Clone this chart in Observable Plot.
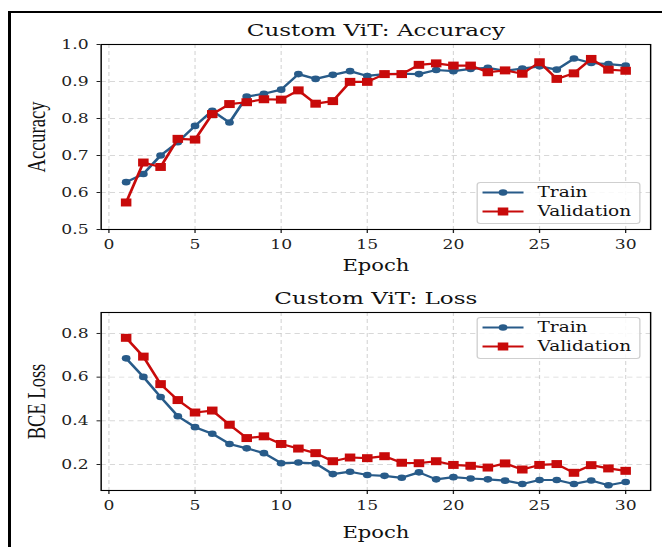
<!DOCTYPE html>
<html><head><meta charset="utf-8">
<script src="https://cdn.jsdelivr.net/npm/d3@7"></script>
<script src="https://cdn.jsdelivr.net/npm/@observablehq/plot@0.6"></script>
<style>
body{margin:0;background:#fff;width:662px;height:547px;overflow:hidden;position:relative;font-family:"DejaVu Serif",serif}
#border{position:absolute;left:8px;top:11px;width:700px;height:600px;border-left:3px solid #000;border-top:2px solid #000;}
#wrap{position:absolute;left:0;top:0;width:501.5px;height:547px;transform:scaleX(1.32);transform-origin:0 0;}
.panel{position:absolute;left:0}
.legend{position:absolute;overflow:visible}
</style></head><body>
<div id="border"></div>
<div id="wrap"></div>
<script>
const epochs = [1,2,3,4,5,6,7,8,9,10,11,12,13,14,15,16,17,18,19,20,21,22,23,24,25,26,27,28,29,30];
const trainAcc = [0.628,0.650,0.700,0.736,0.780,0.821,0.789,0.859,0.867,0.878,0.920,0.907,0.918,0.928,0.915,0.920,0.921,0.920,0.931,0.928,0.934,0.937,0.929,0.935,0.941,0.932,0.962,0.950,0.947,0.943];
const valAcc = [0.573,0.681,0.669,0.745,0.743,0.812,0.839,0.844,0.852,0.851,0.876,0.840,0.847,0.899,0.899,0.920,0.920,0.945,0.949,0.943,0.943,0.925,0.930,0.921,0.952,0.907,0.922,0.961,0.932,0.929];
const trainLoss = [0.686,0.601,0.509,0.421,0.371,0.341,0.294,0.274,0.252,0.206,0.209,0.205,0.156,0.167,0.152,0.148,0.139,0.164,0.132,0.142,0.136,0.132,0.126,0.111,0.129,0.129,0.111,0.127,0.105,0.120];
const valLoss = [0.780,0.694,0.568,0.495,0.438,0.447,0.382,0.321,0.329,0.294,0.273,0.252,0.215,0.232,0.229,0.238,0.208,0.206,0.215,0.198,0.194,0.186,0.205,0.177,0.198,0.202,0.162,0.197,0.182,0.171];
const xTicks = [0,5,10,15,20,25,30];
const accTicks = [0.5,0.6,0.7,0.8,0.9,1.0];
const lossTicks = [0.2,0.4,0.6,0.8];
const seriesNames = ["Train","Validation"];
const titles = ["Custom ViT: Accuracy","Custom ViT: Loss"];
const yLabels = ["Accuracy","BCE Loss"];
const xLabel = "Epoch";
const trainColor = "#285b89";
const valColor = "#c80a0a";

const S = 1.32;
const W = 662 / S;
const ML = 100.5 / S, MR = W - 650 / S;

function panel({train, val, yDomain, yTicks, title, ylabel, height, mt, mb, xlabDy}) {
  const tr = epochs.map((e,i)=>({epoch:e, v:train[i]}));
  const va = epochs.map((e,i)=>({epoch:e, v:val[i]}));
  const grid = {stroke:"#b8b8b8", strokeOpacity:0.55, strokeDasharray:"4,3", strokeWidth:0.9};
  return Plot.plot({
    width: W, height, marginTop: mt, marginBottom: mb, marginLeft: ML, marginRight: MR,
    style: {fontFamily:"DejaVu Serif", fontSize:"13px", color:"#222", background:"transparent", overflow:"visible"},
    x: {domain:[-0.45,31.45], ticks:xTicks, tickFormat:d3.format("d"), tickSize:4, tickPadding:6, label:null},
    y: {domain:yDomain, ticks:yTicks, tickFormat:d3.format(".1f"), tickSize:3, tickPadding:6.5, label:null},
    marks: [
      Plot.ruleX(xTicks, grid),
      Plot.ruleY(yTicks, grid),
      Plot.line(tr, {x:"epoch", y:"v", stroke:trainColor, strokeWidth:2.2}),
      Plot.dot(tr, {x:"epoch", y:"v", r:3.3, fill:trainColor, symbol:"circle"}),
      Plot.line(va, {x:"epoch", y:"v", stroke:valColor, strokeWidth:2.2}),
      Plot.dot(va, {x:"epoch", y:"v", r:4.5, fill:valColor, symbol:"square"}),
      Plot.frame({stroke:"#000", strokeWidth:1.1}),
      Plot.text([title], {frameAnchor:"top", dy:-14, lineAnchor:"middle", fontSize:17.5, fill:"#111"}),
      Plot.text([xLabel], {frameAnchor:"bottom", dy:xlabDy, lineAnchor:"middle", fontSize:16, fill:"#111"}),
      Plot.text([ylabel], {frameAnchor:"left", dx:-(ML - 37/S), rotate:-90, textAnchor:"middle", lineAnchor:"middle", fontSize:18.5, fontFamily:"Liberation Serif", fill:"#111"})
    ]
  });
}

function legend(top) {
  const w = (641-477)/S, h = 42;
  const svg = d3.create("svg").attr("class","legend").attr("width",w).attr("height",h)
    .style("left",(477/S)+"px").style("top",top+"px");
  svg.append("rect").attr("x",0.5).attr("y",0.5).attr("width",w-1).attr("height",h-1).attr("rx",2.5)
    .attr("fill","rgba(255,255,255,0.85)").attr("stroke","#cfcfcf");
  const x0 = (483-477)/S, x1 = (524-477)/S, xm = (503.5-477)/S, xt = (538-477)/S;
  [[10.5,trainColor,"circle"],[29.5,valColor,"square"]].forEach(([y,c,sym],i)=>{
    svg.append("line").attr("x1",x0).attr("x2",x1).attr("y1",y).attr("y2",y).attr("stroke",c).attr("stroke-width",2.2);
    if (sym==="circle") svg.append("circle").attr("cx",xm).attr("cy",y).attr("r",3.3).attr("fill",c);
    else svg.append("rect").attr("x",xm-4).attr("y",y-4).attr("width",8).attr("height",8).attr("fill",c);
    svg.append("text").attr("x",xt).attr("y",y).attr("dy","0.35em").attr("font-family","DejaVu Serif")
      .attr("font-size",14).attr("fill","#111").text(seriesNames[i]);
  });
  return svg.node();
}

const wrap = document.getElementById("wrap");
const p1 = panel({train:trainAcc, val:valAcc, yDomain:[0.5,1.0], yTicks:accTicks, title:titles[0], ylabel:yLabels[0], height:280, mt:44, mb:51, xlabDy:36});
p1.classList.add("panel"); p1.style.top = "0px";
wrap.appendChild(p1);
const p2 = panel({train:trainLoss, val:valLoss, yDomain:[0.081,0.896], yTicks:lossTicks, title:titles[1], ylabel:yLabels[1], height:267, mt:32, mb:57, xlabDy:42});
p2.classList.add("panel"); p2.style.top = "280px";
wrap.appendChild(p2);
wrap.appendChild(legend(181.5));
wrap.appendChild(legend(317));
</script>
</body></html>
